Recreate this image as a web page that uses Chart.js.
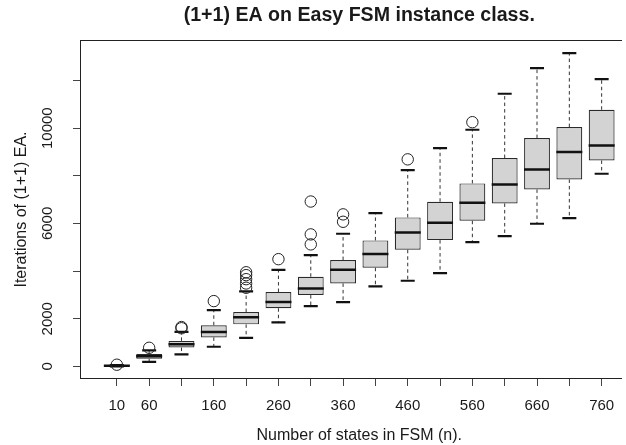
<!DOCTYPE html>
<html>
<head>
<meta charset="utf-8">
<script src="https://cdn.jsdelivr.net/npm/chart.js@4.4.1/dist/chart.umd.min.js"></script>
<style>
  html, body { margin: 0; padding: 0; background: #fff; }
  #clip { width: 622px; height: 445px; overflow: hidden; }
  #wrap { width: 660px; height: 445px; position: relative; }
</style>
</head>
<body>
<div id="clip"><div id="wrap"><canvas id="chart"></canvas></div></div>
<script>
// Box plot data, one entry per FSM size
const states = [10, 60, 110, 160, 210, 260, 310, 360, 410, 460, 510, 560, 610, 660, 710, 760];
const xLabelsShown = [10, 60, 160, 260, 360, 460, 560, 660, 760];
const yTicks = [0, 2000, 4000, 6000, 8000, 10000, 12000];
const yLabelsShown = [0, 2000, 6000, 10000];

const whiskerLow  = [0, 190, 500, 824, 1200, 1850, 2531, 2699, 3357, 3594, 3916, 5217, 5469, 5987, 6225, 8085];
const q1          = [15, 320, 790, 1216, 1763, 2440, 2993, 3483, 4140, 4895, 5301, 6113, 6840, 7428, 7848, 8645];
const median      = [25, 420, 930, 1440, 2060, 2705, 3273, 4056, 4714, 5623, 6029, 6868, 7638, 8267, 8995, 9275];
const q3          = [35, 515, 1070, 1725, 2280, 3120, 3762, 4462, 5287, 6253, 6910, 7680, 8743, 9582, 10044, 10772];
const whiskerHigh = [55, 670, 1452, 2363, 3150, 4050, 4672, 5567, 6434, 8239, 9163, 9932, 11443, 12521, 13150, 12059];
const outliers = [
  [70], [780], [1600, 1650], [2740], [3300, 3480, 3660, 3830, 3950], [4500],
  [5120, 5540, 6920], [6070, 6380], [], [8690], [], [10250], [], [], [], []
];

const mainTitle = '(1+1) EA on Easy FSM instance class.';
const xTitle = 'Number of states in FSM (n).';
const yTitle = 'Iterations of (1+1) EA.';

// Build datasets from the arrays
const boxData = states.map((s, i) => ({ x: i + 1, y: [q1[i], q3[i]] }));
const whiskerData = [];
states.forEach((s, i) => {
  whiskerData.push({ x: i + 1, y: q3[i] }, { x: i + 1, y: whiskerHigh[i] }, { x: i + 1, y: null });
  whiskerData.push({ x: i + 1, y: q1[i] }, { x: i + 1, y: whiskerLow[i] }, { x: i + 1, y: null });
});
const capData = [];
states.forEach((s, i) => {
  capData.push({ x: i + 1, y: whiskerLow[i] }, { x: i + 1, y: whiskerHigh[i] });
});
const medianData = states.map((s, i) => ({ x: i + 1, y: median[i] }));
const outlierData = [];
outliers.forEach((list, i) => list.forEach(v => outlierData.push({ x: i + 1, y: v })));

const FONT = '"Liberation Sans", Arial, Helvetica, sans-serif';

// Frame + all text (R style axes)
const rAxes = {
  id: 'rAxes',
  afterDraw(chart) {
    const { ctx, chartArea: a, scales: { x, y } } = chart;
    ctx.save();
    ctx.strokeStyle = '#222';
    ctx.lineWidth = 1;
    ctx.strokeRect(Math.round(a.left) + 0.5, Math.round(a.top) + 0.5,
      Math.round(a.right - a.left), Math.round(a.bottom - a.top) - 1);

    ctx.fillStyle = '#1a1a1a';
    ctx.textAlign = 'center';
    ctx.textBaseline = 'middle';
    ctx.font = '15px ' + FONT;
    xLabelsShown.forEach(n => {
      ctx.fillText(String(n), x.getPixelForValue(states.indexOf(n) + 1), a.bottom + 26.8);
    });
    yLabelsShown.forEach(v => {
      ctx.save();
      ctx.translate(a.left - 32, y.getPixelForValue(v));
      ctx.rotate(-Math.PI / 2);
      ctx.fillText(String(v), 0, 0);
      ctx.restore();
    });

    ctx.font = '16px ' + FONT;
    ctx.fillText(xTitle, (a.left + a.right) / 2, a.bottom + 56.8);
    ctx.save();
    ctx.translate(a.left - 58.5, (a.top + a.bottom) / 2);
    ctx.rotate(-Math.PI / 2);
    ctx.fillText(yTitle, 0, 0);
    ctx.restore();

    ctx.font = 'bold 19.6px ' + FONT;
    ctx.fillText(mainTitle, (a.left + a.right) / 2, a.top - 24);
    ctx.restore();
  }
};

const tickGrid = { drawOnChartArea: false, drawTicks: true, tickLength: 7, color: '#444', lineWidth: 1 };

new Chart(document.getElementById('chart'), {
  type: 'bar',
  data: {
    datasets: [
      {
        type: 'scatter',
        data: outlierData,
        pointStyle: 'circle',
        pointRadius: 5.7,
        borderWidth: 1,
        borderColor: '#222',
        backgroundColor: 'rgba(0,0,0,0)',
        order: 0,
      },
      {
        type: 'scatter',
        data: medianData,
        pointStyle: 'line',
        pointRadius: 13,
        borderWidth: 2.5,
        borderColor: '#111',
        order: 0,
      },
      {
        type: 'scatter',
        data: capData,
        pointStyle: 'line',
        pointRadius: 7,
        borderWidth: 2.2,
        borderColor: '#111',
        order: 1,
      },
      {
        type: 'bar',
        data: boxData,
        backgroundColor: '#d3d3d3',
        borderColor: '#2a2a2a',
        borderWidth: 1.2,
        borderSkipped: false,
        barPercentage: 1,
        categoryPercentage: 0.8,
        order: 2,
      },
      {
        type: 'line',
        data: whiskerData,
        borderColor: '#333',
        borderWidth: 1,
        borderDash: [3.5, 3],
        pointRadius: 0,
        spanGaps: false,
        order: 3,
      },
    ],
  },
  options: {
    responsive: true,
    maintainAspectRatio: false,
    animation: false,
    events: [],
    layout: { padding: { top: 40, right: 21.5, left: 0, bottom: 0 } },
    plugins: { legend: { display: false }, tooltip: { enabled: false } },
    scales: {
      x: {
        type: 'linear',
        min: -0.14,
        max: 17.14,
        offset: false,
        afterBuildTicks: scale => { scale.ticks = states.map((s, i) => ({ value: i + 1 })); },
        afterFit: scale => { scale.height = 66; },
        ticks: { display: false },
        grid: { ...tickGrid, offset: false },
        border: { display: false },
      },
      y: {
        type: 'linear',
        min: -530,
        max: 13700,
        afterBuildTicks: scale => { scale.ticks = yTicks.map(v => ({ value: v })); },
        afterFit: scale => { scale.width = 80; },
        ticks: { display: false },
        grid: tickGrid,
        border: { display: false },
      },
    },
  },
  plugins: [rAxes],
});
</script>
</body>
</html>
